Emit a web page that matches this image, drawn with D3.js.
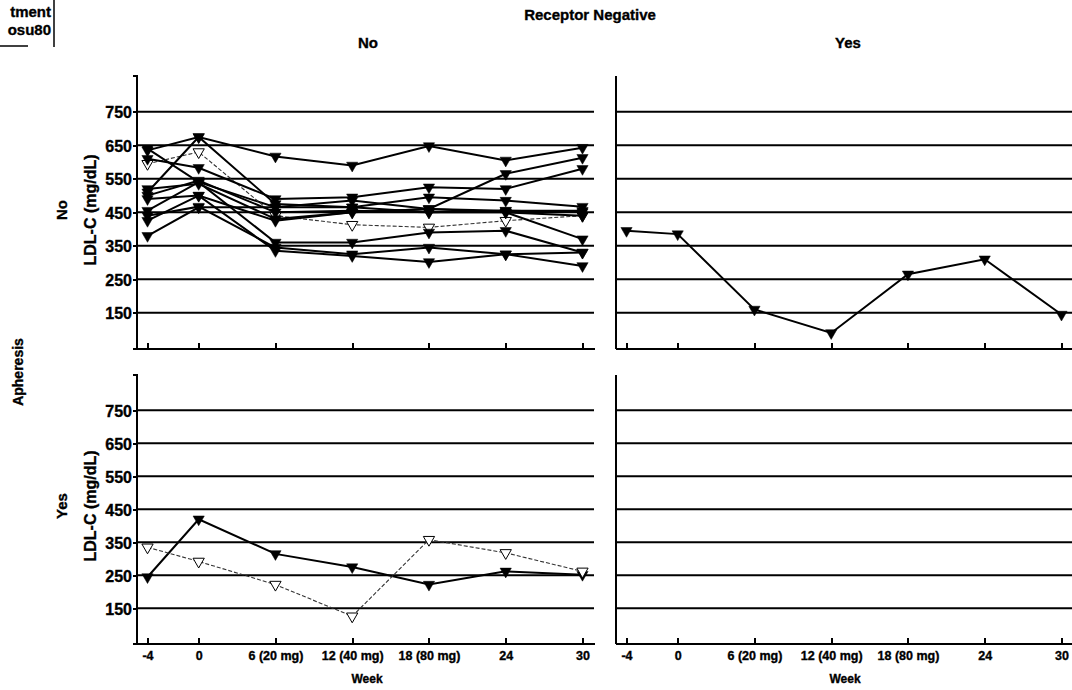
<!DOCTYPE html>
<html>
<head lang="en">
  <meta charset="UTF-8">
  <title>LDL-C by week</title>
</head>
<style>
  body { margin: 0; background: #fff; }
  svg text { font-family: "Liberation Sans", Arial, sans-serif; font-weight: bold; fill: #000; stroke: #000; stroke-width: 0.35; }
  .grid line { stroke: #000; stroke-width: 2; }
  .axis line, .axis path { stroke: #000; stroke-width: 2; shape-rendering: crispEdges; }
</style>
<body>
<svg id="chart" width="1072" height="690"></svg>

<script src="https://cdn.jsdelivr.net/npm/d3@7"></script>
<script>
  // weeks on the x axis and their labels
  var weeks = [-4, 0, 6, 12, 18, 24, 30];
  var weekLabels = ['-4', '0', '6 (20 mg)', '12 (40 mg)', '18 (80 mg)', '24', '30'];
  var yTicks = [150, 250, 350, 450, 550, 650, 750];

  var colLabels = ['No', 'Yes'];   // Receptor Negative
  var rowLabels = ['No', 'Yes'];   // Apheresis

  // Apheresis = No, Receptor Negative = No
  var p1 = [635, 675, 617, 590, 648, 605, 643];
  var p2 = [640, 540, 465, 485, 460, 565, 613];
  var p3 = [595, 630, 440, 413, 405, 425, 440];
  var p4 = [610, 583, 490, 495, 525, 520, 580];
  var p5 = [510, 675, 475, 465, 495, 485, 467];
  var p6 = [500, 545, 450, 455, 450, 455, 451];
  var p7 = [490, 500, 425, 450, 460, 450, 370];
  var p8 = [455, 540, 360, 360, 390, 395, 330];
  var p9 = [440, 467, 345, 325, 345, 325, 330];
  var p10 = [425, 500, 335, 320, 302, 325, 290];
  var p11 = [380, 465, 465, 465, 450, 450, 440];
  var p12 = [520, 535, 430, 450, 460, 455, 455];

  // Apheresis = No, Receptor Negative = Yes
  var q1 = [395, 385, 160, 90, 265, 310, 145];

  // Apheresis = Yes, Receptor Negative = No
  var r1 = [245, 420, 315, 275, 222, 262, 252];
  var r2 = [335, 292, 222, 126, 358, 318, 262];

  var panels = [
    { row: 0, col: 0, series: [p1, p2, p3, p4, p5, p6, p7, p8, p9, p10, p11, p12], hollow: [p3] },
    { row: 0, col: 1, series: [q1], hollow: [] },
    { row: 1, col: 0, series: [r1, r2], hollow: [r2] },
    { row: 1, col: 1, series: [], hollow: [] }
  ];

  var svg = d3.select('#chart');

  var colRanges = [[136, 594], [615, 1073]];
  var rowRanges = [[348, 75], [643, 374]];

  function xScale(col) {
    return d3.scaleLinear().domain([-4.9, 30.9]).range(colRanges[col]);
  }
  function yScale(row) {
    return d3.scaleLinear().domain([45, 860]).range(rowRanges[row]);
  }

  var tri = d3.symbol().type(d3.symbolTriangle).size(55);

  panels.forEach(function(p) {
    var x = xScale(p.col), y = yScale(p.row);
    var g = svg.append('g');
    var x0 = colRanges[p.col][0], x1 = colRanges[p.col][1];

    // horizontal reference lines
    g.append('g').attr('class', 'grid')
      .selectAll('line').data(yTicks).enter().append('line')
      .attr('x1', x0).attr('x2', x1)
      .attr('y1', function(d) { return y(d); })
      .attr('y2', function(d) { return y(d); });

    // y axis (labels only on left column)
    var yAxis = d3.axisLeft(y).tickValues(yTicks).tickSize(p.col === 0 ? 3 : 0)
      .tickFormat(p.col === 0 ? d3.format('d') : '');
    var ya = g.append('g').attr('class', 'axis')
      .attr('transform', 'translate(' + x0 + ',0)').call(yAxis);
    ya.selectAll('text').style('font-size', '16px').attr('x', -4).attr('dy', '0.36em');

    // x axis: ticks point up, labels on the bottom row
    var xAxis = d3.axisBottom(x).tickValues(weeks).tickSizeInner(-5).tickSizeOuter(0)
      .tickFormat(function(d, i) { return p.row === 1 ? weekLabels[i] : ''; });
    var xa = g.append('g').attr('class', 'axis')
      .attr('transform', 'translate(0,' + y.range()[0] + ')').call(xAxis);
    xa.selectAll('text').style('font-size', '12.5px').attr('y', 8);

    // series
    var line = d3.line()
      .x(function(d, i) { return x(weeks[i]); })
      .y(function(d) { return y(d); });

    p.series.forEach(function(s) {
      var hollow = p.hollow.indexOf(s) >= 0;
      g.append('path').datum(s)
        .attr('d', line)
        .attr('fill', 'none')
        .attr('stroke', hollow ? '#333' : '#000')
        .attr('stroke-width', hollow ? 1.1 : 2)
        .attr('stroke-dasharray', hollow ? '4,2' : null);
      g.selectAll(null).data(s).enter().append('path')
        .attr('d', tri)
        .attr('transform', function(d, i) {
          return 'translate(' + x(weeks[i]) + ',' + y(d) + ') rotate(180)';
        })
        .attr('fill', hollow ? '#fff' : '#000')
        .attr('stroke', '#000')
        .attr('stroke-width', hollow ? 1 : 0.5);
    });
  });

  // titles
  svg.append('text').attr('x', 590).attr('y', 20).attr('text-anchor', 'middle')
    .style('font-size', '15px').text('Receptor Negative');
  colLabels.forEach(function(c, i) {
    svg.append('text').attr('x', i === 0 ? 368 : 848).attr('y', 48).attr('text-anchor', 'middle')
      .style('font-size', '15px').text(c);
  });

  // row labels
  function vtext(txt, cx, cy, size) {
    svg.append('text').attr('transform', 'translate(' + cx + ',' + cy + ') rotate(-90)')
      .attr('text-anchor', 'middle').style('font-size', size + 'px').text(txt);
  }
  vtext('Apheresis', 23, 372, 14);
  rowLabels.forEach(function(r, i) {
    var cy = i === 0 ? 210 : 506;
    vtext(r, 67, cy, 15);
    vtext('LDL-C (mg/dL)', 96, cy, 16);
  });

  // x title
  colRanges.forEach(function(r, i) {
    svg.append('text').attr('x', i === 0 ? 367 : 845).attr('y', 683).attr('text-anchor', 'middle')
      .style('font-size', '12px').text('Week');
  });

  // cropped header box, top-left (only the visible part of the scan)
  svg.append('text').attr('x', 51).attr('y', 17).attr('text-anchor', 'end')
    .style('font-size', '15px').text('tment');
  svg.append('text').attr('x', 51).attr('y', 35).attr('text-anchor', 'end')
    .style('font-size', '15px').text('osu80');
  svg.append('line').attr('x1', 54).attr('x2', 54).attr('y1', 0).attr('y2', 47)
    .attr('stroke', '#000').attr('stroke-width', 1.5);
  svg.append('line').attr('x1', 0).attr('x2', 28).attr('y1', 46).attr('y2', 46)
    .attr('stroke', '#000').attr('stroke-width', 1.5);
</script>
</body>
</html>
